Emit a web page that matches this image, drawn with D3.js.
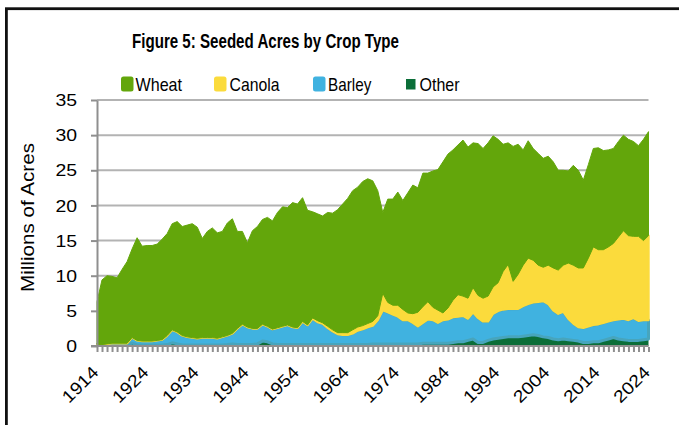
<!DOCTYPE html>
<html><head><meta charset="utf-8">
<script src="https://cdn.jsdelivr.net/npm/d3@7"></script>
<style>html,body{margin:0;padding:0;background:#fff;}svg{display:block;}</style>
</head><body>
<script>
const years = [
1914,1915,1916,1917,1918,1919,1920,1921,1922,1923,
1924,1925,1926,1927,1928,1929,1930,1931,1932,1933,
1934,1935,1936,1937,1938,1939,1940,1941,1942,1943,
1944,1945,1946,1947,1948,1949,1950,1951,1952,1953,
1954,1955,1956,1957,1958,1959,1960,1961,1962,1963,
1964,1965,1966,1967,1968,1969,1970,1971,1972,1973,
1974,1975,1976,1977,1978,1979,1980,1981,1982,1983,
1984,1985,1986,1987,1988,1989,1990,1991,1992,1993,
1994,1995,1996,1997,1998,1999,2000,2001,2002,2003,
2004,2005,2006,2007,2008,2009,2010,2011,2012,2013,
2014,2015,2016,2017,2018,2019,2020,2021,2022,2023,
2024];
const wheat = [
6.1,9.2,9.7,9.5,9.3,10.5,11.6,12.6,14.6,13.5,
13.6,13.6,13.7,14.3,14.5,15.1,15.7,15.5,15.9,16.2,
15.8,14.1,15.1,15.6,15.0,15.0,16.0,16.3,13.8,13.2,
12.0,13.9,14.5,14.9,15.5,15.4,16.4,17.0,16.7,17.7,
17.6,17.6,16.3,15.1,15.2,15.2,16.2,16.6,17.5,18.3,
19.1,19.8,19.9,20.5,20.6,20.0,17.8,11.5,14.7,15.1,
16.1,15.5,17.1,18.3,17.7,19.0,18.3,19.4,20.0,21.5,
21.9,21.4,21.3,22.2,21.5,20.6,21.6,21.3,21.8,21.5,
20.4,18.1,17.3,19.2,18.5,16.4,16.7,15.9,15.9,15.5,
15.5,15.1,14.2,13.5,13.1,14.2,13.9,12.5,13.3,14.0,
14.5,14.1,13.8,13.5,13.6,13.6,13.7,13.5,12.9,14.4,
14.8];
const canola = [
0,0,0,0,0,0,0,0,0,0,
0,0,0,0,0,0,0,0,0,0,
0,0,0,0,0,0,0,0,0,0,
0,0,0,0,0,0,0,0,0,0,
0,0,0,0.1,0.2,0.1,0.2,0.2,0.2,0.3,
0.3,0.5,0.5,0.5,0.5,0.6,0.6,2.4,1.4,1.3,
1.6,1.5,1.0,1.3,2.0,2.3,2.5,1.8,1.8,1.0,
1.6,2.4,3.1,2.8,2.9,3.5,3.2,3.3,3.6,3.8,
4.0,5.4,6.3,3.9,4.9,5.8,6.5,6.0,5.2,4.8,
5.5,6.0,6.2,6.6,7.9,8.3,8.4,8.5,9.7,11.1,
10.6,10.4,10.6,10.9,11.7,12.5,12.0,11.6,12.0,11.3,
12.0];
const barley = [
0.1,0.1,0.2,0.3,0.3,0.3,0.3,0.8,0.65,0.55,
0.55,0.55,0.65,0.75,1.3,1.85,1.7,1.35,1.15,1.05,
0.95,1.05,1.05,1.05,0.95,1.15,1.3,1.5,2.3,2.9,
2.5,2.3,2.2,2.4,2.2,2.1,2.4,2.6,2.8,2.5,
2.4,3.3,2.8,3.7,3.2,3.0,2.4,1.9,1.5,1.4,
1.4,1.6,2.0,2.2,2.5,2.6,3.4,4.8,4.5,4.2,
3.9,3.4,3.4,3.0,2.5,2.9,3.4,3.3,2.9,3.3,
3.4,3.6,3.6,3.7,3.1,3.8,3.5,3.0,2.7,3.6,
3.9,4.0,4.0,4.0,4.0,4.3,4.5,4.6,4.8,5.1,
4.8,4.1,3.7,3.9,3.0,2.4,2.0,2.1,2.3,2.4,
2.5,2.5,2.5,2.5,2.8,3.0,2.9,3.2,2.8,2.8,
2.7];
const other = [
0.1,0.1,0.1,0.1,0.1,0.1,0.1,0.4,0.15,0.15,
0.15,0.15,0.15,0.15,0.2,0.45,0.3,0.15,0.15,0.15,
0.15,0.15,0.15,0.15,0.15,0.15,0.2,0.3,0.2,0.2,
0.2,0.2,0.3,0.7,0.6,0.3,0.2,0.2,0.2,0.2,
0.2,0.2,0.2,0.2,0.2,0.2,0.2,0.2,0.2,0.2,
0.2,0.2,0.2,0.2,0.2,0.3,0.3,0.3,0.3,0.3,
0.3,0.3,0.3,0.3,0.3,0.4,0.4,0.4,0.4,0.4,
0.4,0.5,0.6,0.6,0.8,1.0,0.5,0.5,0.8,1.0,
1.1,1.2,1.3,1.3,1.3,1.4,1.5,1.6,1.5,1.3,
1.2,1.0,0.9,1.0,0.9,0.8,0.7,0.5,0.5,0.6,
0.6,0.8,1.0,1.2,1.0,0.9,0.8,0.8,0.8,0.9,
1.0];
const xTickLabels = ["1914","1924","1934","1944","1954","1964","1974","1984","1994","2004","2014","2024"];
const yTicks = [0,5,10,15,20,25,30,35];
const seriesNames = ["Wheat","Canola","Barley","Other"];
const title = "Figure 5: Seeded Acres by Crop Type";
const yTitle = "Millions of Acres";

const W = 679, H = 425;
const svg = d3.select("body").append("svg").attr("width", W).attr("height", H);

const colors = {Wheat:"#63a60b", Canola:"#fbdb3c", Barley:"#40b2e0", Other:"#0b6e38"};
const teal = "#47a5bd";

// outer frame
svg.append("rect").attr("x",6.4).attr("y",8.7).attr("width",900).attr("height",900)
  .attr("fill","none").attr("stroke","#111").attr("stroke-width",2.8);

const x = d3.scaleLinear().domain([years[0], years[years.length-1]]).range([97, 648.5]);
const y = d3.scaleLinear().domain([0,35]).range([346,100]);

// gridlines
svg.append("g").selectAll("line").data(yTicks.filter(d=>d>0)).join("line")
  .attr("x1",97).attr("x2",648.5).attr("y1",d=>y(d)).attr("y2",d=>y(d))
  .attr("stroke","#b3b3b3").attr("stroke-width",2);

// data table + stack
const table = years.map((yr,i)=>({year:yr, Other:other[i], Barley:barley[i], Canola:canola[i], Wheat:wheat[i]}));
const stack = d3.stack().keys(["Other","Barley","Canola","Wheat"])(table);
const area = d3.area().x(d=>x(d.data.year)).y0(d=>y(d[0])).y1(d=>y(d[1]));

svg.append("defs").append("clipPath").attr("id","clip")
  .append("rect").attr("x",96).attr("y",0).attr("width",600).attr("height",346.5);

const strokeCfg = {Other:[colors.Other,0], Barley:[teal,3], Canola:[colors.Canola,2.4], Wheat:[colors.Wheat,1]};
const gA = svg.append("g").attr("clip-path","url(#clip)");
gA.selectAll("path").data(stack).join("path")
  .attr("d",area)
  .attr("fill",d=>colors[d.key])
  .attr("stroke",d=>strokeCfg[d.key][0])
  .attr("stroke-width",d=>strokeCfg[d.key][1])
  .attr("stroke-linejoin","round");

const axisColor = "#8f8f8f";
// x axis: tick every year
const gx = svg.append("g").attr("transform","translate(0,346)")
  .call(d3.axisBottom(x).tickValues(years).tickFormat("").tickSize(6).tickSizeOuter(0));
gx.select(".domain").attr("stroke",axisColor).attr("stroke-width",2).attr("d","M91,0H648.5");
gx.selectAll(".tick line").attr("stroke",axisColor).attr("stroke-width",2).attr("y1",1);

// y axis
const gy = svg.append("g").attr("transform","translate(97,0)")
  .call(d3.axisLeft(y).tickValues(yTicks).tickFormat("").tickSize(6).tickSizeOuter(0));
gy.select(".domain").attr("stroke",axisColor).attr("stroke-width",2);
gy.selectAll(".tick line").attr("stroke",axisColor).attr("stroke-width",2);

const font = "'Liberation Sans', Arial, sans-serif";
// y tick labels
svg.append("g").selectAll("text").data(yTicks).join("text")
  .attr("x",77).attr("y",d=>y(d)).attr("dy","0.36em")
  .attr("text-anchor","end").attr("font-family",font).attr("font-size",17.2).attr("fill","#000")
  .attr("textLength",d=>String(d).length*10.8).attr("lengthAdjust","spacingAndGlyphs")
  .text(d=>d);

// x tick labels
svg.append("g").selectAll("text").data(xTickLabels).join("text")
  .attr("transform",d=>`translate(${x(+d)+2.5},373.5) rotate(-45)`)
  .attr("text-anchor","end").attr("font-family",font).attr("font-size",17.2).attr("fill","#000")
  .attr("textLength",43).attr("lengthAdjust","spacingAndGlyphs")
  .text(d=>d);

// y title
svg.append("text").attr("transform","translate(33.5,217.5) rotate(-90)")
  .attr("text-anchor","middle").attr("font-family",font).attr("font-size",19).attr("fill","#000")
  .attr("textLength",149).attr("lengthAdjust","spacingAndGlyphs").text(yTitle);

// title
svg.append("text").attr("x",132).attr("y",48)
  .attr("font-family",font).attr("font-weight","bold").attr("font-size",19.5).attr("fill","#000")
  .attr("textLength",267).attr("lengthAdjust","spacingAndGlyphs").text(title);

// legend
const legend = [
  {name:seriesNames[0], sx:121, sw:12.5, sy:76.5, sh:15, rx:2.5, tx:135.5, tl:46.5},
  {name:seriesNames[1], sx:214, sw:12.5, sy:76.5, sh:15, rx:2.5, tx:229.5, tl:50},
  {name:seriesNames[2], sx:313, sw:12.5, sy:76.5, sh:15, rx:2.5, tx:328, tl:43.3},
  {name:seriesNames[3], sx:406, sw:9.5, sy:79, sh:10.5, rx:0, tx:419.5, tl:40}
];
const gl = svg.append("g");
legend.forEach(l=>{
  gl.append("rect").attr("x",l.sx).attr("y",l.sy).attr("width",l.sw).attr("height",l.sh).attr("rx",l.rx)
    .attr("fill",colors[l.name]);
  gl.append("text").attr("x",l.tx).attr("y",90.5).attr("font-family",font).attr("font-size",19)
    .attr("fill","#000").attr("textLength",l.tl).attr("lengthAdjust","spacingAndGlyphs").text(l.name);
});
</script>
</body></html>
